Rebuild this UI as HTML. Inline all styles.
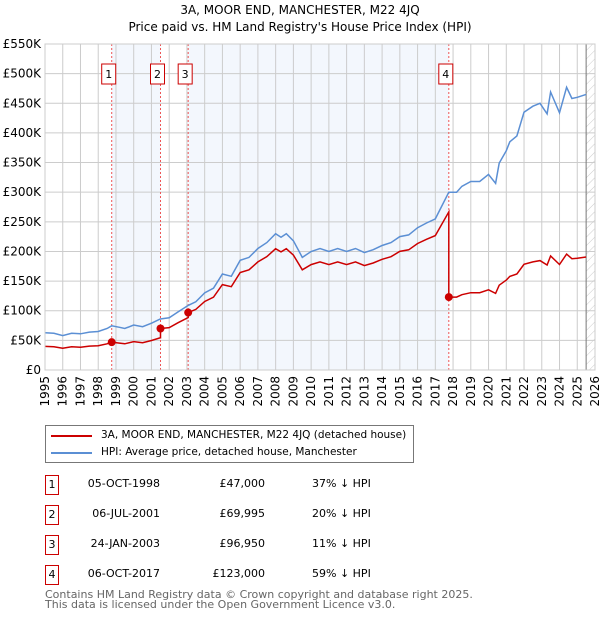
<!DOCTYPE html>
<html><head><meta charset="utf-8"><style>
body{margin:0;background:#fff;font-family:"DejaVu Sans","Liberation Sans",sans-serif;}
#wrap{position:relative;width:600px;height:620px;overflow:hidden;}
svg text{font-family:"DejaVu Sans","Liberation Sans",sans-serif;}
</style></head><body><div id="wrap">
<svg id="chart" width="600" height="620">
<defs><pattern id="hatch" width="6" height="6" patternUnits="userSpaceOnUse" patternTransform="rotate(45)"><line x1="0" y1="0" x2="0" y2="6" stroke="#ccc" stroke-width="1"/></pattern></defs>
<text x="300" y="14" text-anchor="middle" font-size="12">3A, MOOR END, MANCHESTER, M22 4JQ</text>
<text x="300" y="31" text-anchor="middle" font-size="12">Price paid vs. HM Land Registry's House Price Index (HPI)</text>
<g id="g"></g>
</svg>
<div style="position:absolute;left:45px;top:425px;width:367px;height:36px;border:1px solid #777;font-size:10.5px;white-space:nowrap;">
<div style="position:absolute;left:5px;top:9px;width:41px;height:2px;background:#cc0000"></div>
<div style="position:absolute;left:55px;top:3px">3A, MOOR END, MANCHESTER, M22 4JQ (detached house)</div>
<div style="position:absolute;left:5px;top:26px;width:41px;height:2px;background:#5b8fd4"></div>
<div style="position:absolute;left:55px;top:20px">HPI: Average price, detached house, Manchester</div>
</div>
<div id="tbl" style="font-size:11px;"></div>
<div style="position:absolute;left:45px;top:590px;font-size:11px;color:#666;line-height:10px;">Contains HM Land Registry data © Crown copyright and database right 2025.<br>This data is licensed under the Open Government Licence v3.0.</div>
</div>
<script>
const hpiYears=[1995,1995.5,1996,1996.5,1997,1997.5,1998,1998.5,1998.76,1999.2,1999.5,2000,2000.5,2001,2001.5,2002,2002.5,2003.07,2003.5,2004,2004.5,2005,2005.5,2006,2006.5,2007,2007.5,2008,2008.3,2008.6,2009,2009.5,2010,2010.5,2011,2011.5,2012,2012.5,2013,2013.5,2014,2014.5,2015,2015.5,2016,2016.5,2017,2017.76,2018.2,2018.5,2019,2019.5,2020,2020.4,2020.6,2021,2021.2,2021.6,2022,2022.5,2022.9,2023.3,2023.5,2024,2024.4,2024.7,2025,2025.5];
const hpiValues=[63000,62000,58000,62000,61000,64000,65000,70000,74500,72000,70000,76000,73000,79000,86000,88000,98000,109000,115000,130000,138000,162000,158000,185000,190000,205000,215000,230000,224000,230000,218000,190000,200000,205000,200000,205000,200000,205000,198000,203000,210000,215000,225000,228000,240000,248000,255000,300000,300000,310000,318000,318000,330000,315000,349000,370000,385000,395000,435000,445000,450000,432000,469000,434000,477000,458000,460000,465000];
const saleYears=[1998.76,2001.51,2003.07,2017.76];
const salePrices=[47000,69995,96950,123000];
const saleDates=["05-OCT-1998","06-JUL-2001","24-JAN-2003","06-OCT-2017"];
const saleLabels=["£47,000","£69,995","£96,950","£123,000"];
const saleDiffs=["37% ↓ HPI","20% ↓ HPI","11% ↓ HPI","59% ↓ HPI"];
const yTicks=[0,50000,100000,150000,200000,250000,300000,350000,400000,450000,500000,550000];
const yTickLabels=["£0","£50K","£100K","£150K","£200K","£250K","£300K","£350K","£400K","£450K","£500K","£550K"];
const xTicks=[1995,1996,1997,1998,1999,2000,2001,2002,2003,2004,2005,2006,2007,2008,2009,2010,2011,2012,2013,2014,2015,2016,2017,2018,2019,2020,2021,2022,2023,2024,2025,2026];
const X0=45,X1=595,Y0=370,Y1=44;
const xs=y=>X0+(y-1995)/(2026-1995)*(X1-X0);
const ys=v=>Y0-v/550000*(Y0-Y1);
const NS="http://www.w3.org/2000/svg";
const g=document.getElementById('g');
function mk(t,a){const e=document.createElementNS(NS,t);for(const k in a)e.setAttribute(k,a[k]);g.appendChild(e);return e;}
function hpiAt(y){for(let i=1;i<hpiYears.length;i++){if(y<=hpiYears[i]){const t=(y-hpiYears[i-1])/(hpiYears[i]-hpiYears[i-1]);return hpiValues[i-1]+t*(hpiValues[i]-hpiValues[i-1]);}}return hpiValues[hpiValues.length-1];}
let e;
e=mk('rect',{x:xs(saleYears[0]),y:Y1,width:xs(saleYears[1])-xs(saleYears[0]),height:Y0-Y1,fill:'#eef3fc',opacity:0.7});

e=mk('rect',{x:xs(saleYears[2]),y:Y1,width:xs(saleYears[3])-xs(saleYears[2]),height:Y0-Y1,fill:'#eef3fc',opacity:0.7});

e=mk('rect',{x:xs(2025.5),y:Y1,width:X1-xs(2025.5),height:Y0-Y1,fill:'url(#hatch)'});

yTicks.forEach((v,i)=>{
 e=mk('line',{x1:X0,x2:X1,y1:ys(v),y2:ys(v),stroke:'#ccc','stroke-width':1});
 
 e=mk('text',{x:X0-4,y:ys(v)+4,'text-anchor':'end','font-size':12});e.textContent=yTickLabels[i];
 
});
xTicks.forEach(v=>{
 e=mk('line',{x1:xs(v),x2:xs(v),y1:Y1,y2:Y0,stroke:'#ccc','stroke-width':1});
 
 e=mk('text',{x:0,y:0,'font-size':12,'text-anchor':'end',transform:`translate(${xs(v)+4},${Y0+6}) rotate(-90)`});e.textContent=v;
 
});
e=mk('line',{x1:xs(2025.5),x2:xs(2025.5),y1:Y1,y2:Y0,stroke:'#777','stroke-width':1});

saleYears.forEach((s,i)=>{
 e=mk('line',{x1:xs(s),x2:xs(s),y1:Y1,y2:Y0,stroke:'#e55','stroke-width':1,'stroke-dasharray':'2,2'});
 
 const bx=xs(s)-10;
 e=mk('rect',{x:bx,y:64,width:14,height:20,fill:'#fff',stroke:'#c00','stroke-width':1});
 
 e=mk('text',{x:bx+7,y:78,'text-anchor':'middle','font-size':11});e.textContent=i+1;
 
});
let d=hpiYears.map((y,i)=>(i?'L':'M')+xs(y).toFixed(1)+','+ys(hpiValues[i]).toFixed(1)).join('');
e=mk('path',{d:d,fill:'none',stroke:'#5b8fd4','stroke-width':1.5});

let pd='';
const samp=[...hpiYears];saleYears.forEach(s=>{samp.push(s-0.001);samp.push(s);});samp.sort((a,b)=>a-b);
samp.forEach((y,i)=>{let k=0;for(let j=0;j<saleYears.length;j++)if(y>=saleYears[j])k=j;
 const v=salePrices[k]*hpiAt(y)/hpiAt(saleYears[k]);pd+=(i?'L':'M')+xs(y).toFixed(1)+','+ys(v).toFixed(1);});
e=mk('path',{d:pd,fill:'none',stroke:'#cc0000','stroke-width':1.5});

saleYears.forEach((s,i)=>{
 e=mk('circle',{cx:xs(s),cy:ys(salePrices[i]),r:4,fill:'#cc0000'});
 
});
e=mk('rect',{x:X0,y:Y1,width:X1-X0,height:Y0-Y1,fill:'none',stroke:'#ccc'});

const tbl=document.getElementById('tbl');
saleYears.forEach((s,i)=>{
 const top=475+i*30;
 const row=document.createElement('div');
 
 
 row.style.cssText=`position:absolute;left:0;top:${top}px;width:600px;height:20px;`;
 row.innerHTML=`<div style="position:absolute;left:45px;top:0;width:12px;height:18px;border:1px solid #c00;text-align:center;line-height:17px">${i+1}</div>`+
 `<div style="position:absolute;left:70px;width:90px;text-align:right;top:2px">${saleDates[i]}</div>`+
 `<div style="position:absolute;left:180px;width:85px;text-align:right;top:2px">${saleLabels[i]}</div>`+
 `<div style="position:absolute;left:312px;top:2px">${saleDiffs[i]}</div>`;
 tbl.appendChild(row);
});
</script></body></html>
